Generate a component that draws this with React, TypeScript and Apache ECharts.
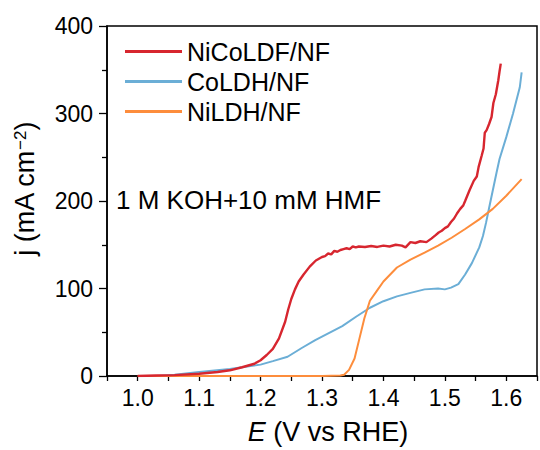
import React, { useEffect, useRef } from "react";
import * as echarts from "echarts";

// Linear sweep voltammetry, potential E (V vs RHE) and current density j (mA cm^-2)
const seriesNames = ["NiCoLDF/NF", "CoLDH/NF", "NiLDH/NF"];
const seriesColors = ["#d7262f", "#6baed6", "#fd8d3c"];

const niCoLdfE = [1.0, 1.03, 1.06, 1.1, 1.13, 1.15, 1.17, 1.19, 1.2, 1.21, 1.22, 1.23, 1.24, 1.245, 1.25, 1.256, 1.262, 1.27, 1.28, 1.29, 1.3, 1.305, 1.31, 1.315, 1.32, 1.325, 1.33, 1.335, 1.34, 1.345, 1.35, 1.355, 1.36, 1.37, 1.38, 1.39, 1.4, 1.41, 1.42, 1.43, 1.436, 1.444, 1.452, 1.46, 1.47, 1.478, 1.485, 1.49, 1.495, 1.5, 1.505, 1.51, 1.515, 1.52, 1.525, 1.53, 1.533, 1.54, 1.547, 1.552, 1.555, 1.56, 1.563, 1.565, 1.568, 1.572, 1.576, 1.579, 1.583, 1.587, 1.589, 1.591];
const niCoLdfJ = [0, 0.5, 1, 2.5, 4.5, 6.5, 10, 14, 18, 24, 31, 43, 62, 76, 88, 99, 108, 116, 125, 132, 136, 137, 140, 139, 143, 142, 144, 145, 146, 145, 148, 147, 148, 147.5, 148.5, 147.5, 149, 148, 150, 149, 147, 153, 152, 154, 153, 157, 161, 164, 166, 169, 171, 176, 180, 186, 191, 195, 200, 212, 223, 228, 239, 252, 260, 278, 281, 288, 296, 312, 322, 338, 348, 357];

const coLdhE = [1.03, 1.06, 1.1, 1.15, 1.2, 1.22, 1.244, 1.267, 1.289, 1.311, 1.333, 1.356, 1.378, 1.4, 1.422, 1.444, 1.467, 1.489, 1.5, 1.51, 1.522, 1.533, 1.544, 1.556, 1.562, 1.567, 1.572, 1.578, 1.584, 1.589, 1.6, 1.611, 1.622, 1.625];
const coLdhJ = [0, 1.5, 4.5, 8, 13, 17, 22, 32, 41, 49, 57, 68, 78, 85.5, 91, 95, 99, 100, 99, 101, 105, 116, 129, 147, 160, 175, 192, 212, 232, 248, 273, 300, 330, 347];

const niLdhE = [1.0, 1.1, 1.2, 1.3, 1.33, 1.336, 1.344, 1.353, 1.361, 1.369, 1.378, 1.389, 1.4, 1.422, 1.444, 1.467, 1.489, 1.511, 1.533, 1.556, 1.578, 1.6, 1.625];
const niLdhJ = [0, 0, 0, 0, 0.5, 1.5, 7, 20, 43, 66, 86, 97, 108, 124, 133, 141, 149, 158, 168, 179, 191, 206, 225];

const xTicks = [1.0, 1.1, 1.2, 1.3, 1.4, 1.5, 1.6];
const yTicks = [0, 100, 200, 300, 400];

const FONT = "'Liberation Sans', Arial, Helvetica, sans-serif";

const pairs = (xs: number[], ys: number[]) => xs.map((x, i) => [x, ys[i]]);

export default function App() {
  const ref = useRef<HTMLDivElement>(null);

  useEffect(() => {
    if (!ref.current) return;
    const chart = echarts.init(ref.current, undefined, { renderer: "svg" });
    const curves = [pairs(niCoLdfE, niCoLdfJ), pairs(coLdhE, coLdhJ), pairs(niLdhE, niLdhJ)];

    chart.setOption({
      animation: false,
      backgroundColor: "#ffffff",
      textStyle: { fontFamily: FONT },
      grid: {
        left: 107,
        right: 1,
        top: 26,
        bottom: 74,
        show: true,
        borderColor: "#000",
        borderWidth: 1.5,
        backgroundColor: "transparent",
      },
      legend: {
        left: 120,
        top: 34,
        orient: "vertical",
        itemWidth: 57,
        itemHeight: 3,
        itemGap: 5,
        icon: "rect",
        data: seriesNames,
        textStyle: { fontFamily: FONT, fontSize: 25, color: "#000" },
      },
      xAxis: {
        type: "value",
        min: 0.95,
        max: 1.65,
        interval: 0.05,
        name: "{i|E} (V vs RHE)",
        nameLocation: "middle",
        nameGap: 42,
        nameTextStyle: {
          fontFamily: FONT,
          fontSize: 27,
          color: "#000",
          padding: [0, 0, 0, 12],
          rich: { i: { fontFamily: FONT, fontSize: 27, fontStyle: "italic", color: "#000" } },
        },
        axisLine: { show: true, lineStyle: { color: "#000", width: 1.5 } },
        axisTick: { show: true, inside: false, length: 5, lineStyle: { color: "#000", width: 1.3 } },
        splitLine: { show: false },
        axisLabel: {
          margin: 10,
          fontFamily: FONT,
          fontSize: 23,
          color: "#000",
          showMinLabel: true,
          showMaxLabel: true,
          formatter: (v: number) => {
            const t = xTicks.find((x) => Math.abs(x - v) < 1e-6);
            return t === undefined ? "" : t.toFixed(1);
          },
        },
      },
      yAxis: {
        type: "value",
        min: 0,
        max: 400,
        interval: 100,
        axisLine: { show: true, lineStyle: { color: "#000", width: 1.5 } },
        axisTick: { show: true, inside: false, length: 8, lineStyle: { color: "#000", width: 1.3 } },
        minorTick: { show: true, splitNumber: 2, length: 5, lineStyle: { color: "#000", width: 1.3 } },
        splitLine: { show: false },
        axisLabel: {
          margin: 14,
          fontFamily: FONT,
          fontSize: 23,
          color: "#000",
          formatter: (v: number) => (yTicks.includes(v) ? String(v) : ""),
        },
      },
      graphic: [
        {
          type: "text",
          left: 116,
          top: 187,
          style: {
            text: "1 M KOH+10 mM HMF",
            fontFamily: FONT,
            fontSize: 26,
            fill: "#000",
          },
        },
        {
          type: "text",
          x: 25,
          y: 189,
          rotation: Math.PI / 2,
          style: {
            text: "j (mA cm{sup|−2})",
            fontFamily: FONT,
            fontSize: 27,
            fill: "#000",
            align: "center",
            verticalAlign: "middle",
            rich: {
              sup: { fontFamily: FONT, fontSize: 17, fill: "#000", verticalAlign: "top", padding: [0, 0, 10, 0] },
            },
          },
        },
      ],
      series: seriesNames.map((name, i) => ({
        name,
        type: "line",
        data: curves[i],
        showSymbol: false,
        symbol: "none",
        clip: true,
        z: i === 0 ? 4 : 3,
        color: seriesColors[i],
        lineStyle: { color: seriesColors[i], width: i === 0 ? 2.4 : 2 },
      })),
    });

    return () => chart.dispose();
  }, []);

  return (
    <div
      ref={ref}
      style={{ position: "absolute", left: 0, top: 0, width: 540, height: 450, background: "#fff" }}
    />
  );
}
